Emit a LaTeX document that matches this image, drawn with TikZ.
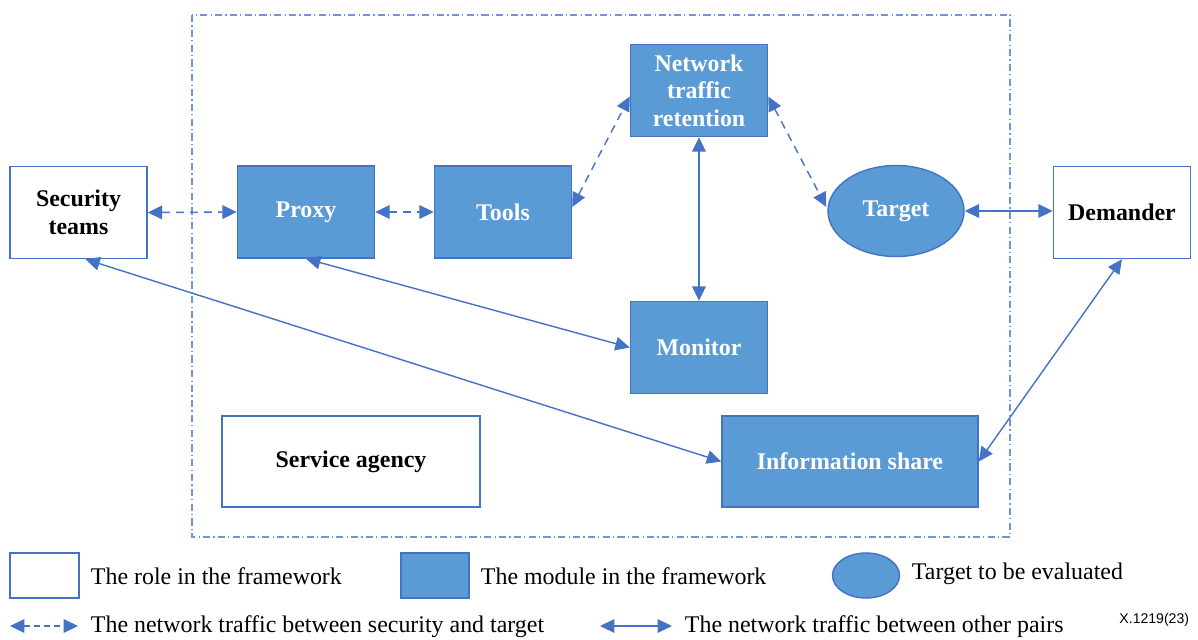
\documentclass[tikz,border=0pt]{standalone}
\usepackage{fontspec}
\setmainfont{Liberation Serif}
\newfontfamily\notefont{Liberation Sans}
\usetikzlibrary{arrows.meta,shapes.geometric,calc}
\definecolor{modblue}{RGB}{91,155,213}
\definecolor{lineblue}{RGB}{68,114,196}
\definecolor{frameblue}{RGB}{110,150,220}
\begin{document}
\begin{tikzpicture}[x=0.025cm, y=-0.025cm,
  role/.style={draw=lineblue, line width=1pt, fill=white, minimum width=3.425cm, minimum height=2.3cm, align=center, font=\fontsize{17}{19.5}\selectfont\bfseries},
  module/.style={role, fill=modblue, text=white},
  target/.style={ellipse, draw=lineblue, line width=1pt, fill=modblue, text=white, inner sep=0pt, minimum width=3.4cm, minimum height=2.275cm, font=\fontsize{17}{19.5}\selectfont\bfseries},
  link/.style={draw=lineblue, line width=1pt, {Triangle[length=3.6mm,width=3.4mm]}-{Triangle[length=3.6mm,width=3.4mm]}},
  dashlink/.style={link, dash pattern=on 0.2cm off 0.15cm},
  legtext/.style={anchor=west, font=\fontsize{17}{19.5}\selectfont}]
  \useasboundingbox (0,0) rectangle (1198,639);
  \draw[frameblue, line width=0.8pt, dash pattern=on 0.18cm off 0.08cm on 0.03cm off 0.08cm] (192,15) rectangle (1010,537);
  \node[role] (sec) at (78.5,212.5) {Security\\teams};
  \node[module] (proxy) at (306,212) {Proxy};
  \node[module] (tools) at (503,212) {Tools};
  \node[module] (ntr) at (699,90.5) {Network\\traffic\\retention};
  \node[target] (tgt) at (896,211) {Target};
  \node[role] (dem) at (1122,212.5) {Demander};
  \node[module] (mon) at (699,347.5) {Monitor};
  \node[role, minimum width=6.45cm, minimum height=2.275cm] (agency) at (351,461.5) {Service agency};
  \node[module, minimum width=6.4cm, minimum height=2.275cm] (share) at (850,461.5) {Information share};
  \draw[dashlink] (sec.east) -- (proxy.west);
  \draw[dashlink] (proxy.east) -- (tools.west);
  \draw[dashlink] ($(tools.east)+(0,-5)$) -- ($(ntr.west)+(0,6)$);
  \draw[dashlink] ($(ntr.east)+(0,6)$) -- ($(tgt.west)+(-1,-4)$);
  \draw[link] (ntr.south) -- (mon.north);
  \draw[link] (tgt.east) -- (tgt.east -| dem.west);
  \draw[link] (proxy.south) -- (mon.west);
  \draw[link] ($(sec.south)+(7,0)$) -- (share.west);
  \draw[link] (dem.south) -- (share.east);
  \node[role, minimum width=1.725cm, minimum height=1.125cm] (keyrole) at (44.5,575.5) {};
  \node[legtext] (keyroletext) at (86,576) {The role in the framework};
  \node[module, minimum width=1.7cm, minimum height=1.125cm] (keymod) at (435,575.5) {};
  \node[legtext] (keymodtext) at (476,576) {The module in the framework};
  \node[target, minimum width=1.675cm, minimum height=1.125cm] (keytgt) at (866,575.5) {};
  \node[legtext] (keytgttext) at (907,574) {Target to be evaluated};
  \coordinate (d1) at (10,626);
  \coordinate (d2) at (78,626);
  \draw[dashlink, dash pattern=on 0.15cm off 0.1cm] (d1) -- (d2);
  \node[legtext] (keydashtext) at (86,627) {The network traffic between security and target};
  \coordinate (s1) at (600,626);
  \coordinate (s2) at (672,626);
  \draw[link] (s1) -- (s2);
  \node[legtext] (keysolidtext) at (680,627) {The network traffic between other pairs};
  \node[anchor=east, font=\notefont\fontsize{10}{12}\selectfont] (code) at (1194,620) {X.1219(23)};
\end{tikzpicture}
\end{document}
